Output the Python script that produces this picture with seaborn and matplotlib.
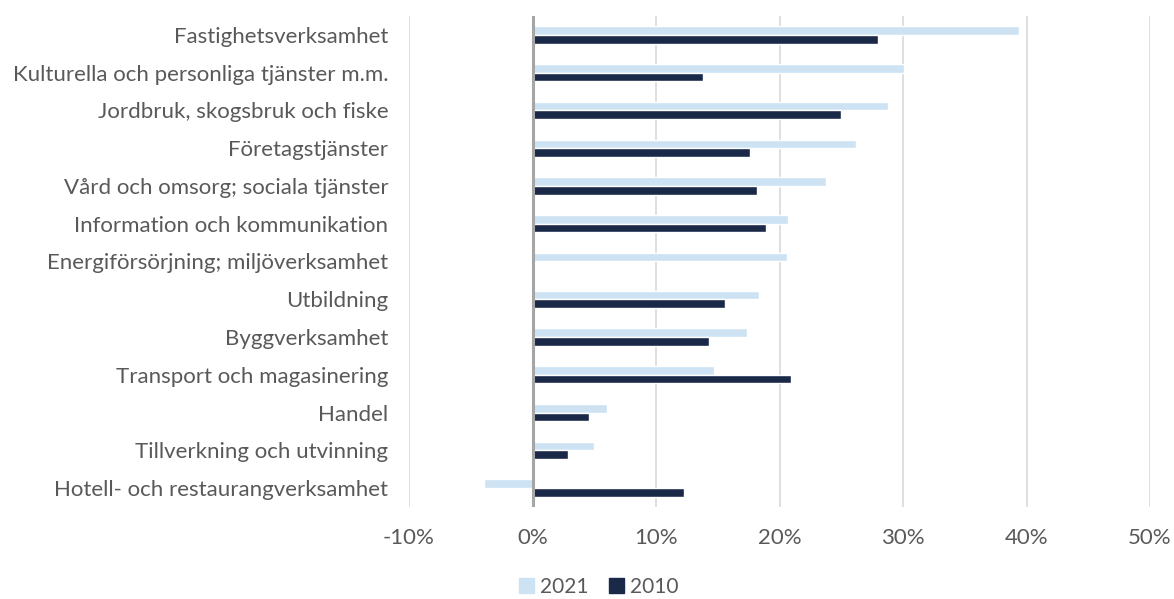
import pandas as pd
import matplotlib.pyplot as plt
import seaborn as sns
from matplotlib.patches import Patch
from matplotlib.ticker import FuncFormatter

# Data (per cent)
branscher = [
    "Fastighetsverksamhet",
    "Kulturella och personliga tjänster m.m.",
    "Jordbruk, skogsbruk och fiske",
    "Företagstjänster",
    "Vård och omsorg; sociala tjänster",
    "Information och kommunikation",
    "Energiförsörjning; miljöverksamhet",
    "Utbildning",
    "Byggverksamhet",
    "Transport och magasinering",
    "Handel",
    "Tillverkning och utvinning",
    "Hotell- och restaurangverksamhet",
]
v2021 = [39.4, 30.1, 28.8, 26.2, 23.8, 20.7, 20.6, 18.3, 17.4, 14.7, 6.0, 5.0, -3.9]
v2010 = [28.0, 13.8, 25.0, 17.6, 18.2, 18.9, 0.0, 15.6, 14.3, 20.9, 4.6, 2.9, 12.3]
ar = ["2021", "2010"]
farger = ["#cde3f3", "#1b2949"]

df = pd.DataFrame({
    "bransch": branscher * 2,
    "ar": [ar[0]] * len(branscher) + [ar[1]] * len(branscher),
    "varde": v2021 + v2010,
})

sns.set_style("white")
plt.rcParams["font.family"] = ["Lato", "DejaVu Sans"]
textfarg = "#595959"
fs = 16

fig = plt.figure(figsize=(11.74, 5.99), dpi=100)
ax = fig.add_axes([409 / 1174, 1 - 507 / 599, (1150 - 409) / 1174, (507 - 16) / 599])

sns.barplot(data=df, y="bransch", x="varde", hue="ar", order=branscher,
            hue_order=ar, palette=farger, orient="h", width=0.46,
            ax=ax, legend=False, saturation=1)

ax.set_xlim(-10, 50)
ax.set_xticks(range(-10, 51, 10))
ax.xaxis.set_major_formatter(FuncFormatter(lambda v, p: f"{v:.0f}%".replace("\u2212", "-")))
ax.grid(axis="x", color="#d9d9d9", linewidth=1.2)
ax.set_axisbelow(True)
ax.axvline(0, color="#a6a6a6", linewidth=2.2, zorder=3)
for s in ax.spines.values():
    s.set_visible(False)
ax.set_xlabel("")
ax.set_ylabel("")
ax.tick_params(axis="y", length=0, pad=15, labelsize=fs, labelcolor=textfarg)
ax.tick_params(axis="x", length=0, pad=15, labelsize=fs, labelcolor=textfarg)

handles = [Patch(color=c, label=a) for c, a in zip(farger, ar)]
fig.legend(handles=handles, loc="lower center", bbox_to_anchor=(0.51, -0.028),
           ncol=2, frameon=False, fontsize=15, labelcolor=textfarg,
           handlelength=0.7, handleheight=0.7, handletextpad=0.3, columnspacing=1.0)

fig.savefig("out.png", dpi=100)
